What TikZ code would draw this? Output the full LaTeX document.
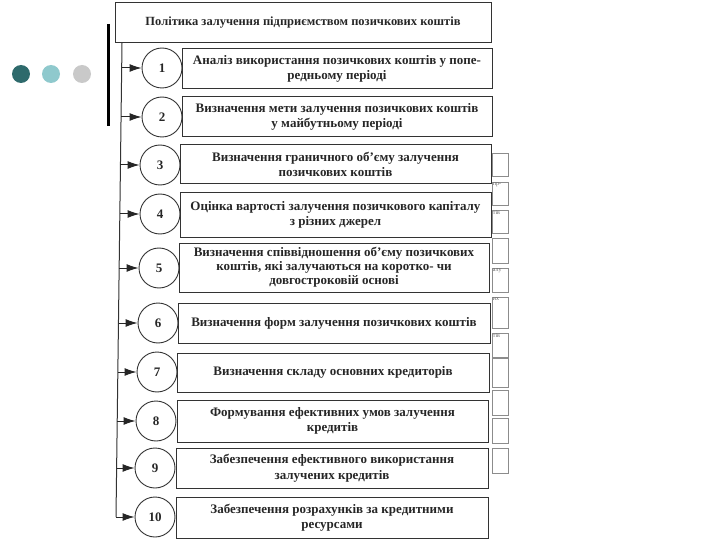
\documentclass[tikz,border=0pt]{standalone}
\usepackage{fontspec}
\setmainfont{Liberation Serif}
\usetikzlibrary{arrows.meta}
\definecolor{dotA}{HTML}{2E6A6C}
\definecolor{dotB}{HTML}{8FC9CD}
\definecolor{dotC}{HTML}{C9C9C9}
\begin{document}
\begin{tikzpicture}[x=1pt,y=-1pt,
 boxst/.style={draw=black!80, line width=1pt, rectangle, inner sep=0pt, align=center,
   font=\fontsize{13}{15.5}\selectfont\bfseries, text=black!85},
 circst/.style={draw=black!80, line width=0.9pt, circle, minimum size=40pt, inner sep=0pt,
   font=\fontsize{13}{15}\selectfont\bfseries, text=black!85},
 arr/.style={-{Latex[length=12pt,width=8pt]}, line width=1pt, draw=black!85},
 trunkst/.style={line width=1pt, draw=black!80},
 fragst/.style={draw=black!45, line width=0.5pt, rectangle, inner sep=0pt, minimum width=16pt},
 fragtx/.style={font=\fontsize{6}{6}\selectfont, text=black!60, inner sep=1pt, anchor=north west},
 dotst/.style={circle, inner sep=0pt, minimum size=18pt}
]
\useasboundingbox (0,0) rectangle (720,540);

% decorative dots and bar
\node[dotst, fill=dotA] (d1) at (21,74) {};
\node[dotst, fill=dotB] (d2) at (51,74) {};
\node[dotst, fill=dotC] (d3) at (82,74) {};
\draw[line width=3pt] (108,24) -- (108,126);

% title
\node[boxst, minimum width=376pt, minimum height=40pt, font=\fontsize{12.5}{14}\selectfont\bfseries] (t) at (303,23)
  {Політика залучення підприємством позичкових коштів};

% circles
\node[circst] (c1) at (162,68) {1};
\node[circst] (c2) at (162,117) {2};
\node[circst] (c3) at (160,165) {3};
\node[circst] (c4) at (160,214) {4};
\node[circst] (c5) at (159,268) {5};
\node[circst] (c6) at (158,323) {6};
\node[circst] (c7) at (157,372) {7};
\node[circst] (c8) at (156,421) {8};
\node[circst] (c9) at (155,468) {9};
\node[circst] (c10) at (155,517) {10};

% boxes
\node[boxst, minimum width=310pt, minimum height=40pt] (b1) at (337,69)
  {Аналіз використання позичкових коштів у попе-\\редньому періоді};
\node[boxst, minimum width=310pt, minimum height=40pt] (b2) at (337,117)
  {Визначення мети залучення позичкових коштів\\у майбутньому періоді};
\node[boxst, minimum width=311pt, minimum height=39pt] (b3) at (335.5,164.5)
  {Визначення граничного об’єму залучення\\позичкових коштів};
\node[boxst, minimum width=311pt, minimum height=44pt] (b4) at (335.5,215)
  {Оцінка вартості залучення позичкового капіталу\\з різних джерел};
\node[boxst, minimum width=310pt, minimum height=49pt, font=\fontsize{13}{14}\selectfont\bfseries] (b5) at (334,267.5)
  {Визначення співвідношення об’єму позичкових\\коштів, які залучаються на коротко- чи\\довгостроковій основі};
\node[boxst, minimum width=312pt, minimum height=40pt] (b6) at (334,323)
  {Визначення форм залучення позичкових коштів};
\node[boxst, minimum width=312pt, minimum height=39pt] (b7) at (333,372.5)
  {Визначення складу основних кредиторів};
\node[boxst, minimum width=311pt, minimum height=42pt] (b8) at (332.5,421)
  {Формування ефективних умов залучення\\кредитів};
\node[boxst, minimum width=312pt, minimum height=40pt] (b9) at (332,468)
  {Забезпечення ефективного використання\\залучених кредитів};
\node[boxst, minimum width=312pt, minimum height=41pt] (b10) at (332,517.5)
  {Забезпечення розрахунків за кредитними\\ресурсами};

% trunk
\coordinate (t0) at (122,43);
\coordinate (a1) at (121.7,68);
\coordinate (a2) at (121,117);
\coordinate (a3) at (120.4,165);
\coordinate (a4) at (119.8,214);
\coordinate (a5) at (119.1,268);
\coordinate (a6) at (118.5,323);
\coordinate (a7) at (117.8,372);
\coordinate (a8) at (117.2,421);
\coordinate (a9) at (116.6,468);
\coordinate (a10) at (116,517);
\draw[trunkst] (t0) -- (a10);
\foreach \i in {1,...,10} \draw[arr] (a\i) -- (c\i.west);

% scan fragments at right
\node[fragst, minimum height=23pt] (f1) at (500,164.5) {};
\node[fragst, minimum height=23pt, label={[fragtx]north west:пр-}] (f2) at (500,193.5) {};
\node[fragst, minimum height=23pt, label={[fragtx]north west:тів}] (f3) at (500,221.5) {};
\node[fragst, minimum height=25pt] (f4) at (500,250.5) {};
\node[fragst, minimum height=24pt, label={[fragtx]north west:алу}] (f5) at (500,280) {};
\node[fragst, minimum height=31pt, label={[fragtx]north west:их}] (f6) at (500,312.5) {};
\node[fragst, minimum height=24pt, label={[fragtx]north west:тів}] (f7) at (500,345) {};
\node[fragst, minimum height=29pt] (f8) at (500,372.5) {};
\node[fragst, minimum height=25pt] (f9) at (500,402.5) {};
\node[fragst, minimum height=25pt] (f10) at (500,430.5) {};
\node[fragst, minimum height=25pt] (f11) at (500,460.5) {};
\end{tikzpicture}
\end{document}
